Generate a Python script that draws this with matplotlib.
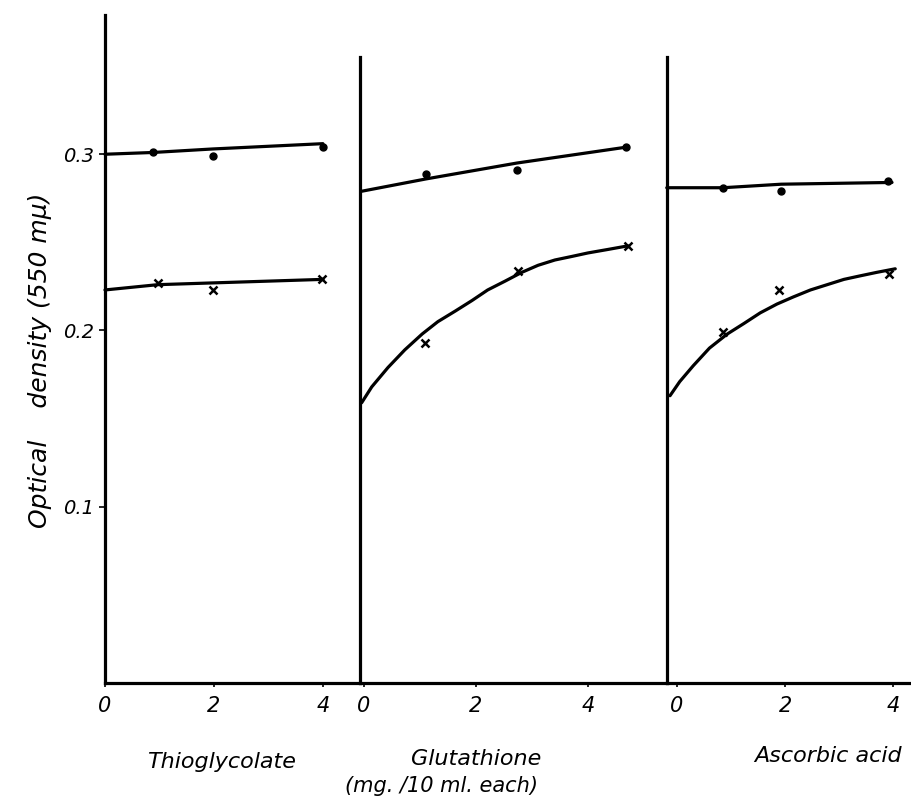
import matplotlib

matplotlib.use("Agg")
import matplotlib.pyplot as plt

# Panel names (reducing agents) and the tick labels on each x axis.
PANELS = ["Thioglycolate", "Glutathione", "Ascorbic acid"]
X_TICKS = [0, 2, 4]
Y_TICKS = [0.1, 0.2, 0.3]
Y_TICK_LABELS = ["0.1", "0.2", "0.3"]

# Measured points (mg. / 10 ml.), dots = upper series, crosses = lower series.
thio_dot_x = [0.88, 1.98, 4.0]
thio_dot_y = [0.301, 0.299, 0.304]
thio_cross_x = [0.97, 1.98, 3.98]
thio_cross_y = [0.227, 0.223, 0.229]

glut_dot_x = [1.11, 2.73, 4.68]
glut_dot_y = [0.289, 0.291, 0.304]
glut_cross_x = [1.09, 2.75, 4.71]
glut_cross_y = [0.193, 0.234, 0.248]

asc_dot_x = [0.85, 1.93, 3.91]
asc_dot_y = [0.281, 0.279, 0.285]
asc_cross_x = [0.85, 1.89, 3.93]
asc_cross_y = [0.199, 0.223, 0.232]

# Hand drawn fitted curves.
thio_dot_fit_x = [0.0, 0.88, 1.98, 4.0]
thio_dot_fit_y = [0.300, 0.301, 0.303, 0.306]
thio_cross_fit_x = [0.0, 0.97, 1.98, 4.0]
thio_cross_fit_y = [0.223, 0.226, 0.227, 0.229]

glut_dot_fit_x = [-0.04, 1.11, 2.73, 4.68]
glut_dot_fit_y = [0.279, 0.286, 0.295, 0.304]
glut_cross_fit_x = [-0.04, 0.14, 0.43, 0.73, 1.04, 1.32, 1.63, 1.93, 2.21,
                    2.52, 2.82, 3.11, 3.41, 3.71, 4.0, 4.36, 4.71]
glut_cross_fit_y = [0.159, 0.168, 0.179, 0.189, 0.198, 0.205, 0.211, 0.217, 0.223,
                    0.228, 0.233, 0.237, 0.240, 0.242, 0.244, 0.246, 0.248]

asc_dot_fit_x = [-0.19, 0.85, 1.93, 3.98]
asc_dot_fit_y = [0.281, 0.281, 0.283, 0.284]
asc_cross_fit_x = [-0.13, 0.05, 0.30, 0.60, 0.93, 1.24, 1.54, 1.85, 2.15,
                   2.47, 2.78, 3.09, 3.39, 3.70, 4.04]
asc_cross_fit_y = [0.163, 0.171, 0.180, 0.190, 0.198, 0.204, 0.210, 0.215, 0.219,
                   0.223, 0.226, 0.229, 0.231, 0.233, 0.235]

FONT = dict(family="DejaVu Sans", style="italic")
LW = 2.3


def style_panel(ax, xlim, first):
    """Strip a panel down to the hand drawn look: left and bottom lines only."""
    ax.set_xlim(*xlim)
    ax.set_ylim(0, 0.379)
    ax.spines["top"].set_visible(False)
    ax.spines["right"].set_visible(False)
    for side in ("left", "bottom"):
        ax.spines[side].set_linewidth(LW)
    if not first:
        # The inner panel lines stop below the first axis line.
        ax.spines["left"].set_bounds(0, 0.355)

    ax.set_xticks(X_TICKS)
    ax.set_xticklabels([str(t) for t in X_TICKS], fontsize=15, **FONT)
    ax.tick_params(axis="x", length=3, width=1.2, pad=6)

    if first:
        ax.set_yticks(Y_TICKS)
        ax.set_yticklabels(Y_TICK_LABELS, fontsize=14, **FONT)
        ax.tick_params(axis="y", length=4, width=1.2, pad=4)
    else:
        ax.set_yticks([])


def draw_series(ax, dx, dy, cx, cy, dfx, dfy, cfx, cfy):
    """Draw the dots, crosses and their fitted curves."""
    for fx, fy in ((dfx, dfy), (cfx, cfy)):
        ax.plot(fx, fy, color="black", lw=LW, solid_capstyle="round",
                solid_joinstyle="round", clip_on=False)
    ax.plot(dx, dy, "o", color="black", markersize=5, clip_on=False)
    ax.plot(cx, cy, "x", color="black", markersize=6, mew=1.8, clip_on=False)


def main():
    fig = plt.figure(figsize=(9.12, 8), dpi=100)

    bottom = 0.14625
    height = 0.835
    ax1 = fig.add_axes([0.1151, bottom, 0.2796, height])
    ax2 = fig.add_axes([0.3947, bottom, 0.3366, height])
    ax3 = fig.add_axes([0.7314, bottom, 0.2686, height])

    style_panel(ax1, (0, 4.68), True)
    style_panel(ax2, (-0.07, 5.41), False)
    style_panel(ax3, (-0.185, 4.35), False)

    draw_series(ax1, thio_dot_x, thio_dot_y, thio_cross_x, thio_cross_y,
                thio_dot_fit_x, thio_dot_fit_y, thio_cross_fit_x, thio_cross_fit_y)
    draw_series(ax2, glut_dot_x, glut_dot_y, glut_cross_x, glut_cross_y,
                glut_dot_fit_x, glut_dot_fit_y, glut_cross_fit_x, glut_cross_fit_y)
    draw_series(ax3, asc_dot_x, asc_dot_y, asc_cross_x, asc_cross_y,
                asc_dot_fit_x, asc_dot_fit_y, asc_cross_fit_x, asc_cross_fit_y)

    # Panel names under each x axis.
    for name, cx, cy in zip(PANELS, (222, 476, 828), (762, 759, 756)):
        fig.text(cx / 912, 1 - cy / 800, name, ha="center", va="center",
                 fontsize=16, **FONT)

    fig.text(442 / 912, 1 - 786 / 800, "(mg. /10 ml. each)", ha="center",
             va="center", fontsize=15, **FONT)
    fig.text(40 / 912, 1 - 360 / 800, "Optical    density (550 m\u03bc)",
             rotation=90, ha="center", va="center", fontsize=18, **FONT)

    fig.savefig("out.png", dpi=100)


if __name__ == "__main__":
    main()
